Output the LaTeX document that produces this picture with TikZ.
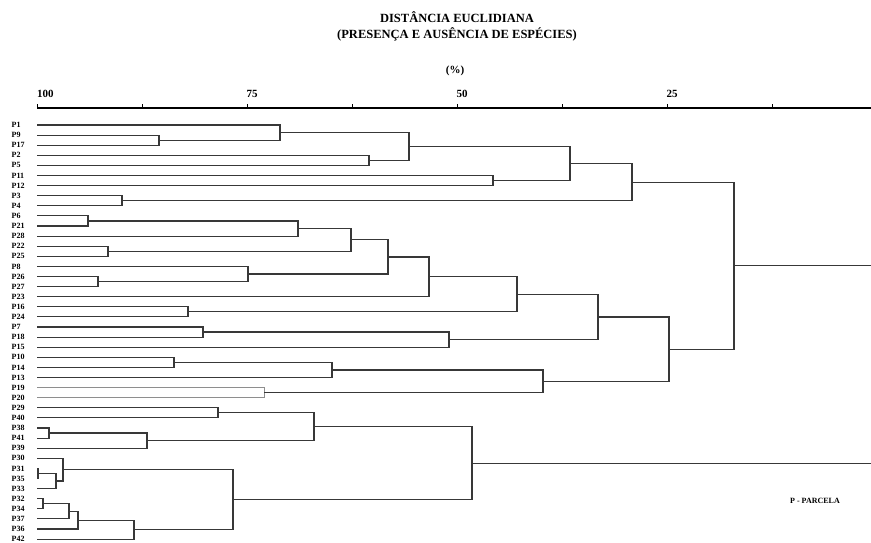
\documentclass[tikz,border=0pt]{standalone}
\usepackage{fontspec}
\setmainfont{Liberation Serif}
\usetikzlibrary{calc}
\definecolor{ink}{HTML}{383838}
\definecolor{inklight}{HTML}{8E8E8E}
\tikzset{
  every node/.style={font=\bfseries,text=black,inner sep=0pt},
  title/.style={font=\bfseries\fontsize{12.5}{16}\selectfont,align=center},
  scalelab/.style={font=\bfseries\fontsize{11}{12}\selectfont},
  leaf/.style={font=\bfseries\fontsize{8}{9}\selectfont,anchor=west},
  axis/.style={draw=black,line width=1.8pt},
  tickmark/.style={draw=black,line width=0.8pt},
  br/.style={draw=ink,line width=1.15pt},
  brlight/.style={draw=inklight,line width=1pt},
}
% merge two clusters at a given x (similarity scale)
\newcommand{\merge}[5][br]{%
  \path let \p1=(#3), \p2=(#4) in (#5pt,{0.5*\y1+0.5*\y2}) coordinate (#2);
  \draw[#1] (#3) -| (#2);
  \draw[#1] (#4) -| (#2);
}

\begin{document}
\begin{tikzpicture}[x=1pt,y=-1pt]
\useasboundingbox (0,0) rectangle (871,542);

% title
\node[title] (ttl) at (457,26) {DISTÂNCIA EUCLIDIANA\\(PRESENÇA E AUSÊNCIA DE ESPÉCIES)};
\node[scalelab] (pct) at (455,71) {(\%)};

% scale
\coordinate (ax0) at (37,108);
\coordinate (ax1) at (871,108);
\draw[axis] (ax0) -- (ax1);
\foreach \k in {0,...,7}
  \draw[tickmark] ({37+105*\k},108) -- ++(0,-4);
\node[scalelab,anchor=west] (s100) at (37,94) {100};
\node[scalelab] (s75) at (252,94) {75};
\node[scalelab] (s50) at (462,94) {50};
\node[scalelab] (s25) at (672,94) {25};

% leaves
\foreach \lab [count=\i from 0] in {P1,P9,P17,P2,P5,P11,P12,P3,P4,P6,P21,P28,P22,P25,P8,P26,P27,P23,P16,P24,P7,P18,P15,P10,P14,P13,P19,P20,P29,P40,P38,P41,P39,P30,P31,P35,P33,P32,P34,P37,P36,P42}{
  \node[leaf] (n\lab) at (11.5,{125+10.1*\i}) {\lab};
  \coordinate (\lab) at (37,{125+10.1*\i});
}

% upper group
\merge{a1}{P9}{P17}{159}
\merge{a2}{P1}{a1}{280}
\merge{a3}{P2}{P5}{369}
\merge{a4}{a2}{a3}{409}
\merge{a5}{P11}{P12}{493}
\merge{a6}{a4}{a5}{570}
\merge{a7}{P3}{P4}{122}
\merge{a8}{a6}{a7}{632}
\merge{b1}{P6}{P21}{88}
\merge{b2}{b1}{P28}{298}
\merge{b3}{P22}{P25}{108}
\merge{b4}{b2}{b3}{351}
\merge{b5}{P26}{P27}{98}
\merge{b6}{P8}{b5}{248}
\merge{b7}{b4}{b6}{388}
\merge{b8}{b7}{P23}{429}
\merge{b9}{P16}{P24}{188}
\merge{b10}{b8}{b9}{517}
\merge{b11}{P7}{P18}{203}
\merge{b12}{b11}{P15}{449}
\merge{b13}{b10}{b12}{598}
\merge{c1}{P10}{P14}{174}
\merge{c2}{c1}{P13}{332}
\merge[brlight]{c3}{P19}{P20}{264}
\merge{c4}{c2}{c3}{543}
\merge{c5}{b13}{c4}{669}
\merge{r1}{a8}{c5}{734}

% lower group
\merge{d1}{P29}{P40}{218}
\merge{d2}{P38}{P41}{49}
\merge{d3}{d2}{P39}{147}
\merge{d4}{d1}{d3}{314}
\merge{e1}{P31}{P35}{38}
\merge{e2}{e1}{P33}{56}
\merge{e3}{P30}{e2}{63}
\merge{f1}{P32}{P34}{43}
\merge{f2}{f1}{P37}{69}
\merge{f3}{f2}{P36}{78}
\merge{f4}{f3}{P42}{134}
\merge{e4}{e3}{f4}{233}
\merge{r2}{d4}{e4}{472}

\draw[br] (r1) -- (r1 -| ax1);
\draw[br] (r2) -- (r2 -| ax1);

\node[leaf,anchor=center] (key) at (815,501) {P - PARCELA};
\end{tikzpicture}
\end{document}
